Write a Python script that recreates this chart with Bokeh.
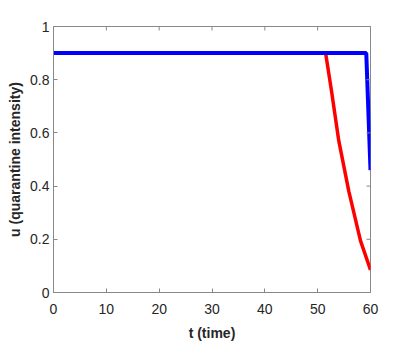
import math
from bokeh.plotting import figure
from bokeh.models import FixedTicker, Range1d
from bokeh.embed import file_html
from bokeh.resources import INLINE

# data
blue_t = [0, 59.2, 60]
blue_u = [0.9, 0.9, 0.46]
red_t = [0, 51.5, 52.6, 54.0, 55.9, 58.1, 60]
red_u = [0.9, 0.9, 0.76, 0.57, 0.38, 0.195, 0.085]
x_ticks = [0, 10, 20, 30, 40, 50, 60]
y_ticks = [0, 0.2, 0.4, 0.6, 0.8, 1]

p = figure(width=400, height=350, output_backend="svg", toolbar_location=None,
           x_range=Range1d(0, 60), y_range=Range1d(0, 1),
           min_border_left=53, min_border_right=30, min_border_top=26, min_border_bottom=58)
p.background_fill_color = "white"
p.border_fill_color = "white"
p.xgrid.visible = False
p.ygrid.visible = False
p.outline_line_color = "#888888"
p.outline_line_width = 1

p.line(red_t, red_u, line_color="#ff0000", line_width=3.5, line_join="round")
p.line(blue_t, blue_u, line_color="#0000ff", line_width=4)

# inward ticks on the top and right edges (clipped to the frame)
p.scatter(x_ticks, [1] * len(x_ticks), marker="dash", size=8, angle=math.pi / 2,
          line_color="#888888", line_width=1)
p.scatter([60] * len(y_ticks), y_ticks, marker="dash", size=8,
          line_color="#888888", line_width=1)

for ax, ticks in ((p.xaxis[0], x_ticks), (p.yaxis[0], y_ticks)):
    ax.ticker = FixedTicker(ticks=ticks)
    ax.axis_line_color = "#888888"
    ax.major_tick_in = 4
    ax.major_tick_out = 0
    ax.minor_tick_line_color = None
    ax.major_tick_line_color = "#888888"
    ax.major_label_text_font = "Liberation Sans"
    ax.major_label_text_font_size = "14px"
    ax.major_label_text_color = "#262626"
    ax.axis_label_text_font = "Liberation Sans"
    ax.axis_label_text_font_style = "bold"
    ax.axis_label_text_font_size = "14px"
    ax.axis_label_text_color = "#262626"
    ax.axis_label_standoff = 4

p.xaxis[0].major_label_standoff = 11
p.xaxis[0].axis_label_standoff = 8
p.yaxis[0].major_label_standoff = 4
p.xaxis[0].axis_label = "t (time)"
p.yaxis[0].axis_label = "u (quarantine intensity)"

open("out.html", "w").write(file_html(p, INLINE))
